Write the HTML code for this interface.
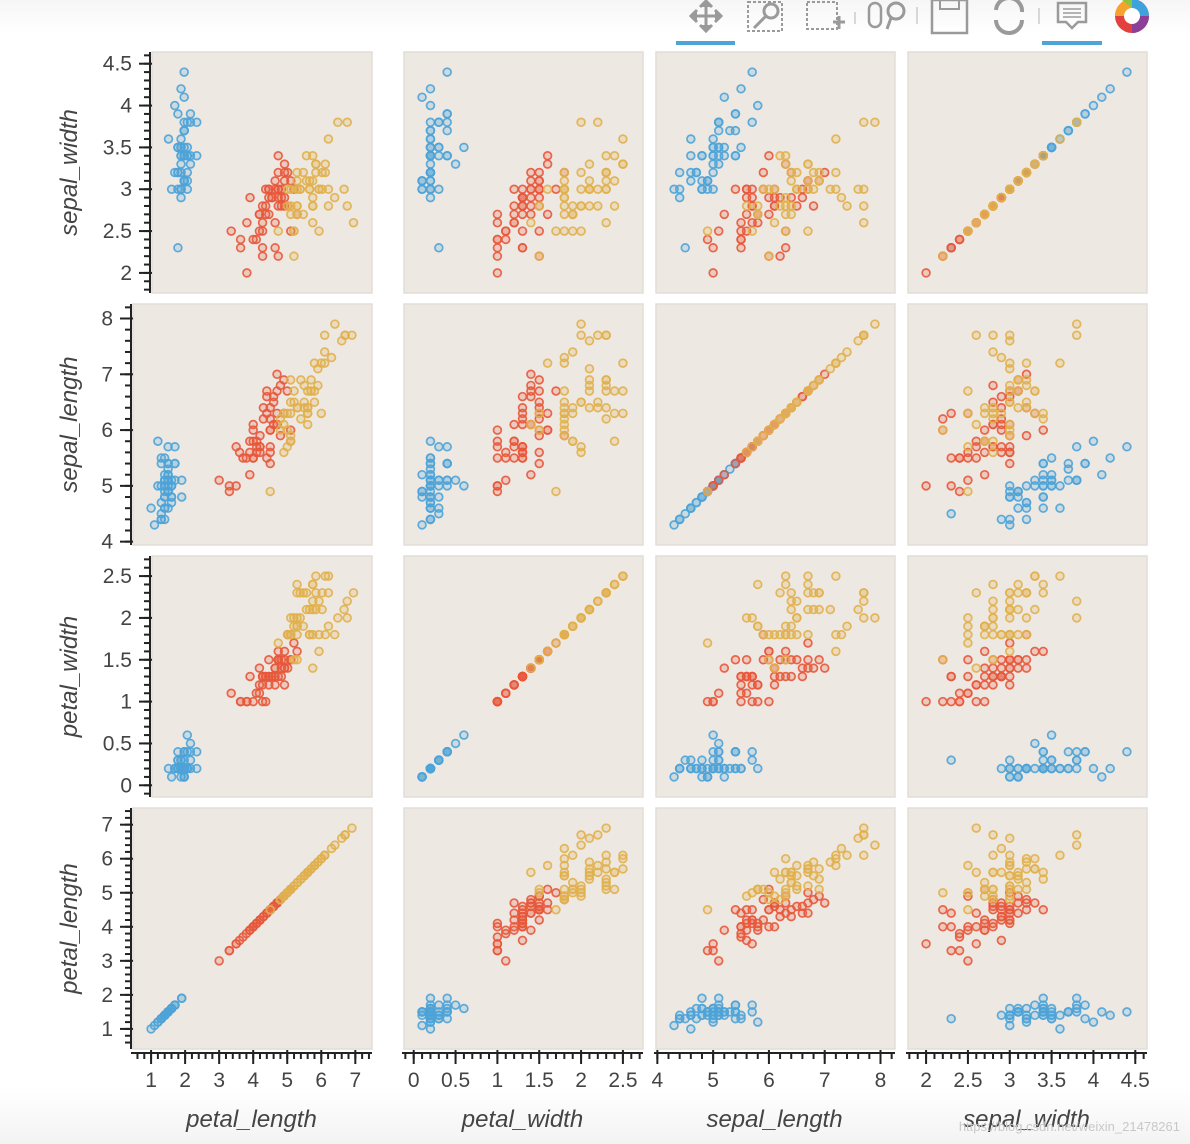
<!DOCTYPE html>
<html><head><meta charset="utf-8">
<style>
html,body{margin:0;padding:0;background:#fff;}
body{width:1190px;height:1144px;overflow:hidden;font-family:"Liberation Sans",sans-serif;}
svg{display:block}
</style></head>
<body>
<svg id="chart" width="1190" height="1144" xmlns="http://www.w3.org/2000/svg">
<defs>
<linearGradient id="bg" x1="0" y1="0" x2="0" y2="1"><stop offset="0" stop-color="#f6f6f6"/><stop offset="0.03" stop-color="#fff"/><stop offset="0.95" stop-color="#fff"/><stop offset="1" stop-color="#f3f3f3"/></linearGradient>
</defs>
<rect width="1190" height="1144" fill="url(#bg)"/>
<g id="toolbar" fill="none" stroke="#9a9a9a" stroke-width="3">
  <g><path d="M706 2 V30 M692 16 H720"/><path d="M700 7 L706 1 L712 7 M700 25 L706 31 L712 25 M697 10 L691 16 L697 22 M715 10 L721 16 L715 22" fill="#9a9a9a"/></g>
  <rect x="676" y="41" width="59" height="4" fill="#4ea3d8" stroke="none"/>
  <g><rect x="748" y="2" width="34" height="29" stroke-dasharray="3 2" stroke-width="2"/><circle cx="771" cy="11" r="7"/><path d="M766 16 L754 28"/></g>
  <g><rect x="807" y="2" width="30" height="27" stroke-dasharray="3 2" stroke-width="2"/><path d="M833 22 H845 M839 16 V29"/></g>
  <path d="M855 12 V24 M917 7 V24 M1039 8 V24" stroke-width="1.5" stroke="#ccc"/>
  <g><rect x="869" y="3" width="12" height="24" rx="6" stroke-width="2.5"/><circle cx="896" cy="11" r="8"/><path d="M891 18 L887 29"/></g>
  <g><rect x="932" y="0" width="35" height="33" stroke-width="2.5"/><rect x="940" y="0" width="19" height="9" stroke-width="2"/></g>
  <g><path d="M996 10 A13 13 0 0 1 1022 12 M1022 20 A13 13 0 0 1 996 20" stroke-width="4"/></g>
  <g><path d="M1058 3 H1086 V22 H1078 L1072 28 L1066 22 H1058 Z" stroke-width="2.5"/><path d="M1063 9 H1081 M1063 13 H1081 M1063 17 H1081" stroke-width="1.5"/></g>
  <rect x="1042" y="41" width="60" height="4" fill="#4ea3d8" stroke="none"/>
  <g stroke="none">
    <circle cx="1132" cy="16" r="17" fill="#e3413e"/><path d="M1132 -1 A17 17 0 0 1 1149 16 L1132 16Z" fill="#3ea3dd"/><path d="M1149 16 A17 17 0 0 1 1132 33 L1132 16Z" fill="#8b3f98"/><path d="M1115 16 A17 17 0 0 1 1132 -1 L1132 16Z" fill="#f6a22c"/><path d="M1122 0 L1132 -1 L1132 8Z" fill="#8cc63e"/><circle cx="1132" cy="16" r="8" fill="#fff"/>
  </g>
</g>
<g id="plots"></g>
<text x="1180" y="1131" text-anchor="end" font-size="13" fill="#c8c8c8">https://blog.csdn.net/weixin_21478261</text>
</svg>
<script>
const sepalLength=[5.1,4.9,4.7,4.6,5.0,5.4,4.6,5.0,4.4,4.9,5.4,4.8,4.8,4.3,5.8,5.7,5.4,5.1,5.7,5.1,5.4,5.1,4.6,5.1,4.8,5.0,5.0,5.2,5.2,4.7,4.8,5.4,5.2,5.5,4.9,5.0,5.5,4.9,4.4,5.1,5.0,4.5,4.4,5.0,5.1,4.8,5.1,4.6,5.3,5.0,
7.0,6.4,6.9,5.5,6.5,5.7,6.3,4.9,6.6,5.2,5.0,5.9,6.0,6.1,5.6,6.7,5.6,5.8,6.2,5.6,5.9,6.1,6.3,6.1,6.4,6.6,6.8,6.7,6.0,5.7,5.5,5.5,5.8,6.0,5.4,6.0,6.7,6.3,5.6,5.5,5.5,6.1,5.8,5.0,5.6,5.7,5.7,6.2,5.1,5.7,
6.3,5.8,7.1,6.3,6.5,7.6,4.9,7.3,6.7,7.2,6.5,6.4,6.8,5.7,5.8,6.4,6.5,7.7,7.7,6.0,6.9,5.6,7.7,6.3,6.7,7.2,6.2,6.1,6.4,7.2,7.4,7.9,6.4,6.3,6.1,7.7,6.3,6.4,6.0,6.9,6.7,6.9,5.8,6.8,6.7,6.7,6.3,6.5,6.2,5.9];
const sepalWidth=[3.5,3.0,3.2,3.1,3.6,3.9,3.4,3.4,2.9,3.1,3.7,3.4,3.0,3.0,4.0,4.4,3.9,3.5,3.8,3.8,3.4,3.7,3.6,3.3,3.4,3.0,3.4,3.5,3.4,3.2,3.1,3.4,4.1,4.2,3.1,3.2,3.5,3.1,3.0,3.4,3.5,2.3,3.2,3.5,3.8,3.0,3.8,3.2,3.7,3.3,
3.2,3.2,3.1,2.3,2.8,2.8,3.3,2.4,2.9,2.7,2.0,3.0,2.2,2.9,2.9,3.1,3.0,2.7,2.2,2.5,3.2,2.8,2.5,2.8,2.9,3.0,2.8,3.0,2.9,2.6,2.4,2.4,2.7,2.7,3.0,3.4,3.1,2.3,3.0,2.5,2.6,3.0,2.6,2.3,2.7,3.0,2.9,2.9,2.5,2.8,
3.3,2.7,3.0,2.9,3.0,3.0,2.5,2.9,2.5,3.6,3.2,2.7,3.0,2.5,2.8,3.2,3.0,3.8,2.6,2.2,3.2,2.8,2.8,2.7,3.3,3.2,2.8,3.0,2.8,3.0,2.8,3.8,2.8,2.8,2.6,3.0,3.4,3.1,3.0,3.1,3.1,3.1,2.7,3.2,3.3,3.0,2.5,3.0,3.4,3.0];
const petalLength=[1.4,1.4,1.3,1.5,1.4,1.7,1.4,1.5,1.4,1.5,1.5,1.6,1.4,1.1,1.2,1.5,1.3,1.4,1.7,1.5,1.7,1.5,1.0,1.7,1.9,1.6,1.6,1.5,1.4,1.6,1.6,1.5,1.5,1.4,1.5,1.2,1.3,1.5,1.3,1.5,1.3,1.3,1.3,1.6,1.9,1.4,1.6,1.4,1.5,1.4,
4.7,4.5,4.9,4.0,4.6,4.5,4.7,3.3,4.6,3.9,3.5,4.2,4.0,4.7,3.6,4.4,4.5,4.1,4.5,3.9,4.8,4.0,4.9,4.7,4.3,4.4,4.8,5.0,4.5,3.5,3.8,3.7,3.9,5.1,4.5,4.5,4.7,4.4,4.1,4.0,4.4,4.6,4.0,3.3,4.2,4.2,4.2,4.3,3.0,4.1,
6.0,5.1,5.9,5.6,5.8,6.6,4.5,6.3,5.8,6.1,5.1,5.3,5.5,5.0,5.1,5.3,5.5,6.7,6.9,5.0,5.7,4.9,6.7,4.9,5.7,6.0,4.8,4.9,5.6,5.8,6.1,6.4,5.6,5.1,5.6,6.1,5.6,5.5,4.8,5.4,5.6,5.1,5.1,5.9,5.7,5.2,5.0,5.2,5.4,5.1];
const petalWidth=[0.2,0.2,0.2,0.2,0.2,0.4,0.3,0.2,0.2,0.1,0.2,0.2,0.1,0.1,0.2,0.4,0.4,0.3,0.3,0.3,0.2,0.4,0.2,0.5,0.2,0.2,0.4,0.2,0.2,0.2,0.2,0.4,0.1,0.2,0.1,0.2,0.2,0.1,0.2,0.2,0.3,0.3,0.2,0.6,0.4,0.3,0.2,0.2,0.2,0.2,
1.4,1.5,1.5,1.3,1.5,1.3,1.6,1.0,1.3,1.4,1.0,1.5,1.0,1.4,1.3,1.4,1.5,1.0,1.5,1.1,1.8,1.3,1.5,1.2,1.3,1.4,1.4,1.7,1.5,1.0,1.1,1.0,1.2,1.6,1.5,1.6,1.5,1.3,1.3,1.3,1.2,1.4,1.2,1.0,1.3,1.2,1.3,1.3,1.1,1.3,
2.5,1.9,2.1,1.8,2.2,2.1,1.7,1.8,1.8,2.5,2.0,1.9,2.1,2.0,2.4,2.3,1.8,2.2,2.3,1.5,2.3,2.0,2.0,1.8,2.1,1.8,1.8,1.8,2.1,1.6,1.9,2.0,2.2,1.5,1.4,2.3,2.4,1.8,1.8,2.1,2.4,2.3,1.9,2.3,2.5,2.3,1.9,2.0,2.3,1.8];
const speciesNames=["setosa","versicolor","virginica"];
const speciesCounts=[50,50,50];
const rowVars=["sepal_width","sepal_length","petal_width","petal_length"];
const colVars=["petal_length","petal_width","sepal_length","sepal_width"];
const tickLabels={
 sepal_width:["2","2.5","3","3.5","4","4.5"],
 sepal_length:["4","5","6","7","8"],
 petal_width:["0","0.5","1","1.5","2","2.5"],
 petal_length:["1","2","3","4","5","6","7"]};
const minorSteps={sepal_width:0.1,sepal_length:0.2,petal_width:0.1,petal_length:0.2};

const columns={sepal_length:sepalLength,sepal_width:sepalWidth,petal_length:petalLength,petal_width:petalWidth};
const colors=["#4ea3d8","#e8583b","#e1b04c"];
const NS="http://www.w3.org/2000/svg";
const root=document.getElementById("plots");
function mk(tag,attrs,parent){const e=document.createElementNS(NS,tag);for(const k in attrs)e.setAttribute(k,attrs[k]);(parent||root).appendChild(e);return e;}
function range(v){const d=columns[v];const mn=Math.min(...d),mx=Math.max(...d),s=mx-mn;return [mn-0.1*s,mx+0.1*s];}
const speciesOf=[];speciesCounts.forEach((c,i)=>{for(let j=0;j<c;j++)speciesOf.push(i);});
const colRight=[372,643,895,1147];
const colLeftBase=[null,402,654,906];
const firstColLeft=[150,131,150,131];
const AX="#222", LBL="#444";

rowVars.forEach((rv,r)=>{
 const top=52+252*r, bottom=top+241;
 const yr=range(rv);
 const yS=v=>bottom-(v-yr[0])/(yr[1]-yr[0])*(bottom-top);
 colVars.forEach((cv,c)=>{
  const left=c===0?firstColLeft[r]:colLeftBase[c], right=colRight[c];
  const xr=range(cv);
  const xS=v=>left+(v-xr[0])/(xr[1]-xr[0])*(right-left);
  const g=mk("g",{});
  
  
  const bg=mk("rect",{x:left+2,y:top,width:right-left-2,height:bottom-top,fill:"#ede8e2",stroke:"#e2ddd7","stroke-width":1.5},g);
  
  
  const xs=columns[cv], ys=columns[rv];
  for(let i=0;i<xs.length;i++){
   const col=colors[speciesOf[i]];
   const p=mk("circle",{cx:xS(xs[i]).toFixed(2),cy:yS(ys[i]).toFixed(2),r:3.9,fill:col,"fill-opacity":0.2,stroke:col,"stroke-width":1.7,"stroke-opacity":0.9},g);
   
   
  }
  if(c===0){
   const ax=mk("g",{stroke:AX,"stroke-width":2},g);
   
   
   mk("line",{x1:left,y1:top,x2:left,y2:bottom},ax);
   const ms=minorSteps[rv];
   for(let k=Math.ceil(yr[0]/ms);k*ms<=yr[1];k++){const y=yS(k*ms);mk("line",{x1:left-6,y1:y,x2:left,y2:y},ax);}
   tickLabels[rv].forEach(t=>{const v=parseFloat(t);if(v<yr[0]||v>yr[1])return;const y=yS(v);
    mk("line",{x1:left-11,y1:y,x2:left+2,y2:y},ax);
    const tx=mk("text",{x:left-18,y:y+7,"text-anchor":"end","font-size":21,fill:LBL,stroke:"none"},g);tx.textContent=t;
    
    });
   const tt=mk("text",{x:0,y:0,transform:`translate(77,${(top+bottom)/2}) rotate(-90)`,"text-anchor":"middle","font-size":24,"font-style":"italic",fill:"#444"},g);
   tt.textContent=rv;
   
   
  }
  if(r===3){
   const ax=mk("g",{stroke:AX,"stroke-width":2},g);
   
   
   const ay=bottom+4;
   mk("line",{x1:left,y1:ay,x2:right,y2:ay},ax);
   const ms=minorSteps[cv];
   for(let k=Math.ceil(xr[0]/ms);k*ms<=xr[1];k++){const x=xS(k*ms);mk("line",{x1:x,y1:ay,x2:x,y2:ay+6},ax);}
   tickLabels[cv].forEach(t=>{const v=parseFloat(t);if(v<xr[0]||v>xr[1])return;const x=xS(v);
    mk("line",{x1:x,y1:ay-3,x2:x,y2:ay+11},ax);
    const tx=mk("text",{x:x,y:1087,"text-anchor":"middle","font-size":21,fill:LBL,stroke:"none"},g);tx.textContent=t;
    
    });
   const tt=mk("text",{x:(left+right)/2,y:1127,"text-anchor":"middle","font-size":24,"font-style":"italic",fill:"#444"},g);
   tt.textContent=cv;
   
   
  }
 });
});
</script>
</body></html>
